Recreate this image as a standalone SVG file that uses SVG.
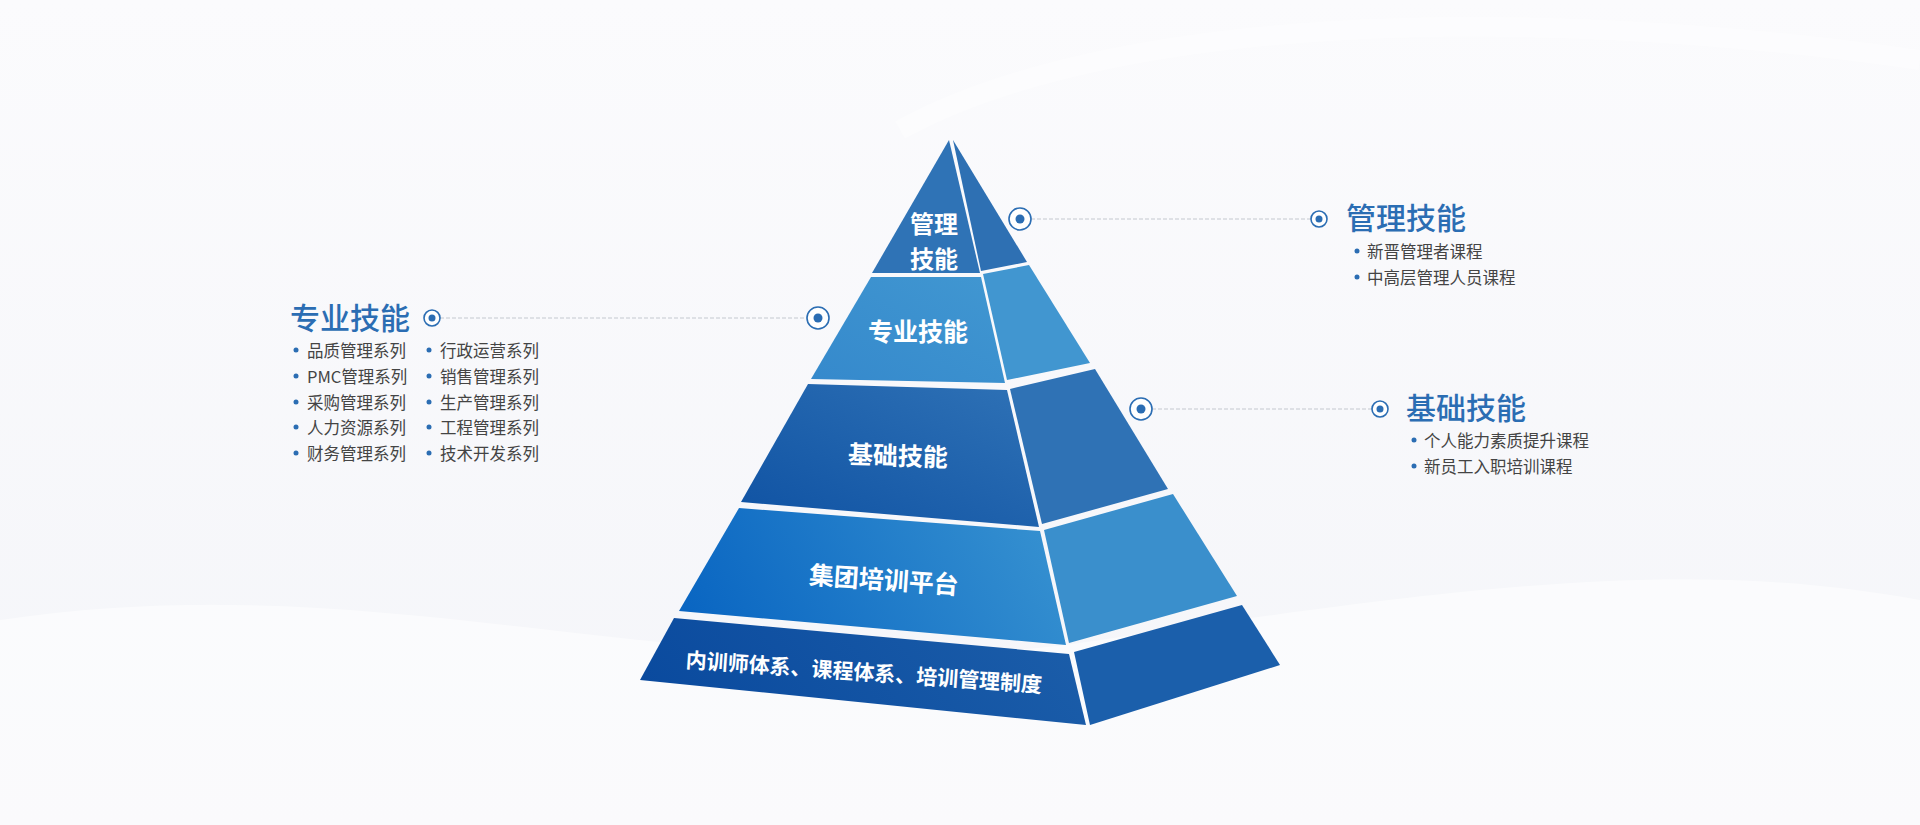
<svg xmlns="http://www.w3.org/2000/svg" width="1920" height="825" viewBox="0 0 1920 825">
<defs>
<linearGradient id="bg" x1="0" y1="0" x2="0" y2="1"><stop offset="0" stop-color="#fbfbfd"/><stop offset="1" stop-color="#f4f5f9"/></linearGradient>
<linearGradient id="g3" x1="0" y1="1" x2="1" y2="0"><stop offset="0" stop-color="#0f52a3"/><stop offset="1" stop-color="#2f72b6"/></linearGradient>
<linearGradient id="g4" x1="0" y1="0.6" x2="1" y2="0.4"><stop offset="0" stop-color="#0a66c2"/><stop offset="1" stop-color="#3590d0"/></linearGradient>
<linearGradient id="g5" x1="0" y1="0.6" x2="1" y2="0.4"><stop offset="0" stop-color="#0a4a9e"/><stop offset="1" stop-color="#1b5da9"/></linearGradient>
<linearGradient id="g2" x1="0" y1="1" x2="1" y2="0"><stop offset="0" stop-color="#3589cc"/><stop offset="1" stop-color="#4197d1"/></linearGradient>
</defs>
<style>
.band{font-family:"Noto Sans CJK SC",sans-serif;font-weight:700;fill:#fff;text-anchor:middle;dominant-baseline:central}
.title{font-family:"Noto Sans CJK SC",sans-serif;font-weight:500;fill:#2b6db3;font-size:30px;dominant-baseline:central}
.item{font-family:"Noto Sans CJK SC",sans-serif;fill:#444;font-size:16.5px;dominant-baseline:central}
.dot{fill:#2b6db3}
.ring{fill:#fff;stroke:#2b6db3;stroke-width:1.6}
.dash{stroke:#c4c8cf;stroke-width:1;stroke-dasharray:4 2;fill:none}
</style>
<rect width="1920" height="825" fill="url(#bg)"/>
<path d="M0 620 C400 560 700 700 1100 640 S1700 560 1920 600 L1920 825 L0 825Z" fill="#ffffff" opacity="0.5"/>
<path d="M900 130 C1100 20 1500 0 1920 60" stroke="#ffffff" stroke-width="20" fill="none" opacity="0.35"/>
<g id="connectors">
<line class="dash" x1="440" y1="318" x2="807" y2="318"/>
<line class="dash" x1="1031" y1="219" x2="1311" y2="219"/>
<line class="dash" x1="1152" y1="409" x2="1372" y2="409"/>
</g>
<g id="pyramid">
<g id="band1"><polygon points="949,140 872,273 980,273" fill="#2f73b6"/><polygon points="953,140 1027,262 981,271" fill="#2e70b3"/>
<text class="band" x="934" y="222" font-size="24">管理</text><text class="band" x="934" y="257" font-size="24">技能</text></g>
<g id="band2"><polygon points="871,277 981,277 1005,383 811,379" fill="url(#g2)"/><polygon points="983,274 1029,265 1090,363 1007,380" fill="#4196d0"/>
<text class="band" x="918" y="330" font-size="25">专业技能</text></g>
<g id="band3"><polygon points="808,384 1007,390 1039,527 741,502" fill="url(#g3)"/><polygon points="1010,389 1095,369 1168,489 1042,524" fill="#2f72b5"/>
<text class="band" x="898" y="454" font-size="25" transform="rotate(2 898 454)">基础技能</text></g>
<g id="band4"><polygon points="739,508 1040,531 1066,645 679,611" fill="url(#g4)"/><polygon points="1044,530 1173,494 1237,596 1069,643" fill="#3a8fcc"/>
<text class="band" x="884" y="578" font-size="25" transform="rotate(4 884 578)">集团培训平台</text></g>
<g id="band5"><polygon points="674,618 1069,654 1086,725 640,680" fill="url(#g5)"/><polygon points="1074,652 1242,605 1280,665 1090,725" fill="#1b5fab"/>
<text class="band" x="864" y="671" font-size="21" transform="rotate(4 864 671)">内训师体系、课程体系、培训管理制度</text></g>
</g>
<g id="left-label">
<circle class="ring" cx="818" cy="318" r="11"/><circle class="dot" cx="818" cy="318" r="4.5"/>
<circle class="ring" cx="432" cy="318" r="8"/><circle class="dot" cx="432" cy="318" r="3.5"/>
<text class="title" x="290" y="316">专业技能</text>
<circle class="dot" cx="296" cy="350" r="2.5"/><text class="item" x="307" y="350">品质管理系列</text>
<circle class="dot" cx="296" cy="376" r="2.5"/><text class="item" x="307" y="376">PMC管理系列</text>
<circle class="dot" cx="296" cy="402" r="2.5"/><text class="item" x="307" y="402">采购管理系列</text>
<circle class="dot" cx="296" cy="427" r="2.5"/><text class="item" x="307" y="427">人力资源系列</text>
<circle class="dot" cx="296" cy="453" r="2.5"/><text class="item" x="307" y="453">财务管理系列</text>
<circle class="dot" cx="429" cy="350" r="2.5"/><text class="item" x="440" y="350">行政运营系列</text>
<circle class="dot" cx="429" cy="376" r="2.5"/><text class="item" x="440" y="376">销售管理系列</text>
<circle class="dot" cx="429" cy="402" r="2.5"/><text class="item" x="440" y="402">生产管理系列</text>
<circle class="dot" cx="429" cy="427" r="2.5"/><text class="item" x="440" y="427">工程管理系列</text>
<circle class="dot" cx="429" cy="453" r="2.5"/><text class="item" x="440" y="453">技术开发系列</text>
</g>
<g id="right-label-top">
<circle class="ring" cx="1020" cy="219" r="11"/><circle class="dot" cx="1020" cy="219" r="4.5"/>
<circle class="ring" cx="1319" cy="219" r="8"/><circle class="dot" cx="1319" cy="219" r="3.5"/>
<text class="title" x="1346" y="216">管理技能</text>
<circle class="dot" cx="1357" cy="251" r="2.5"/><text class="item" x="1367" y="251">新晋管理者课程</text>
<circle class="dot" cx="1357" cy="277" r="2.5"/><text class="item" x="1367" y="277">中高层管理人员课程</text>
</g>
<g id="right-label-bottom">
<circle class="ring" cx="1141" cy="409" r="11"/><circle class="dot" cx="1141" cy="409" r="4.5"/>
<circle class="ring" cx="1380" cy="409" r="8"/><circle class="dot" cx="1380" cy="409" r="3.5"/>
<text class="title" x="1406" y="406">基础技能</text>
<circle class="dot" cx="1414" cy="440" r="2.5"/><text class="item" x="1424" y="440">个人能力素质提升课程</text>
<circle class="dot" cx="1414" cy="466" r="2.5"/><text class="item" x="1424" y="466">新员工入职培训课程</text>
</g>
</svg>
